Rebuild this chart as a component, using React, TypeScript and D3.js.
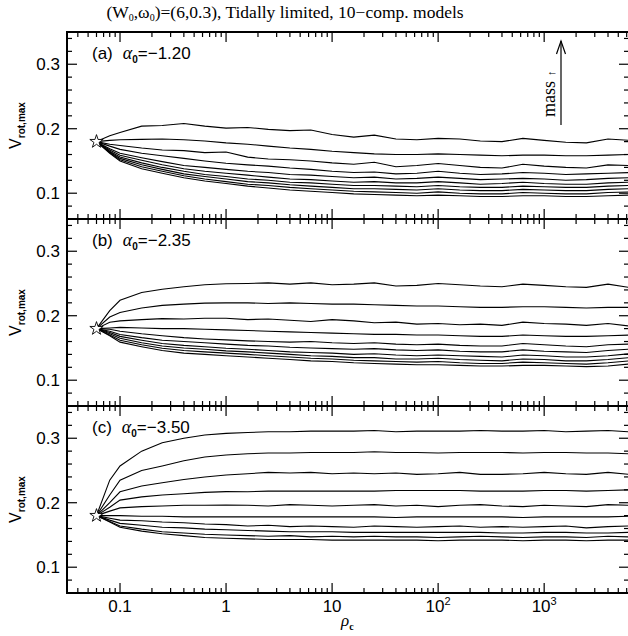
import React from "react";
import * as d3 from "d3";

// ---- data ----
const RHO_C = [0.06, 0.08, 0.1, 0.16, 0.25, 0.4, 0.63, 1, 1.6, 2.5, 4, 6.3, 10, 16, 25, 40, 63, 100, 160, 250, 400, 630, 1000, 1600, 2500, 4000, 6300];

const VROT_A = [
  [0.180, 0.189, 0.194, 0.204, 0.205, 0.208, 0.204, 0.201, 0.202, 0.199, 0.197, 0.198, 0.191, 0.187, 0.190, 0.184, 0.183, 0.185, 0.184, 0.181, 0.180, 0.185, 0.182, 0.179, 0.178, 0.184, 0.182],
  [0.180, 0.182, 0.183, 0.1835, 0.184, 0.183, 0.181, 0.178, 0.176, 0.173, 0.170, 0.168, 0.165, 0.163, 0.161, 0.160, 0.160, 0.161, 0.160, 0.159, 0.158, 0.159, 0.159, 0.158, 0.158, 0.159, 0.160],
  [0.180, 0.176, 0.174, 0.170, 0.167, 0.166, 0.163, 0.164, 0.156, 0.153, 0.152, 0.150, 0.147, 0.145, 0.148, 0.141, 0.143, 0.146, 0.143, 0.140, 0.139, 0.145, 0.142, 0.140, 0.139, 0.144, 0.143],
  [0.180, 0.173, 0.168, 0.162, 0.158, 0.154, 0.150, 0.1465, 0.144, 0.142, 0.139, 0.137, 0.134, 0.132, 0.133, 0.130, 0.131, 0.134, 0.131, 0.129, 0.130, 0.132, 0.131, 0.129, 0.130, 0.131, 0.132],
  [0.180, 0.169, 0.162, 0.155, 0.149, 0.143, 0.140, 0.137, 0.134, 0.132, 0.129, 0.128, 0.126, 0.124, 0.125, 0.122, 0.123, 0.125, 0.123, 0.121, 0.122, 0.123, 0.122, 0.120, 0.121, 0.123, 0.124],
  [0.180, 0.167, 0.159, 0.151, 0.144, 0.138, 0.134, 0.131, 0.128, 0.125, 0.122, 0.121, 0.119, 0.117, 0.118, 0.116, 0.116, 0.118, 0.116, 0.114, 0.115, 0.117, 0.115, 0.114, 0.114, 0.116, 0.117],
  [0.180, 0.165, 0.156, 0.147, 0.140, 0.134, 0.129, 0.126, 0.122, 0.120, 0.117, 0.116, 0.114, 0.112, 0.112, 0.111, 0.110, 0.112, 0.110, 0.109, 0.109, 0.111, 0.110, 0.109, 0.109, 0.111, 0.112],
  [0.180, 0.164, 0.154, 0.144, 0.137, 0.130, 0.126, 0.122, 0.118, 0.116, 0.113, 0.111, 0.109, 0.107, 0.107, 0.106, 0.105, 0.107, 0.105, 0.104, 0.104, 0.106, 0.105, 0.104, 0.104, 0.106, 0.107],
  [0.180, 0.163, 0.152, 0.141, 0.134, 0.127, 0.122, 0.118, 0.114, 0.112, 0.109, 0.107, 0.105, 0.103, 0.102, 0.101, 0.100, 0.102, 0.100, 0.099, 0.099, 0.101, 0.100, 0.099, 0.099, 0.101, 0.102],
  [0.180, 0.162, 0.150, 0.138, 0.131, 0.124, 0.119, 0.115, 0.111, 0.108, 0.105, 0.103, 0.101, 0.099, 0.098, 0.097, 0.096, 0.097, 0.096, 0.095, 0.095, 0.096, 0.096, 0.095, 0.095, 0.096, 0.097],
];

const VROT_B = [
  [0.180, 0.208, 0.224, 0.236, 0.241, 0.245, 0.248, 0.2495, 0.250, 0.251, 0.249, 0.251, 0.248, 0.249, 0.251, 0.246, 0.247, 0.250, 0.248, 0.246, 0.245, 0.249, 0.247, 0.245, 0.244, 0.249, 0.244],
  [0.180, 0.198, 0.205, 0.212, 0.216, 0.218, 0.2195, 0.220, 0.220, 0.219, 0.220, 0.219, 0.218, 0.218, 0.217, 0.216, 0.215, 0.215, 0.214, 0.213, 0.213, 0.214, 0.214, 0.213, 0.212, 0.213, 0.213],
  [0.180, 0.190, 0.192, 0.194, 0.1955, 0.195, 0.196, 0.196, 0.194, 0.195, 0.193, 0.191, 0.194, 0.192, 0.189, 0.190, 0.187, 0.188, 0.186, 0.187, 0.185, 0.190, 0.188, 0.187, 0.185, 0.188, 0.184],
  [0.180, 0.181, 0.182, 0.181, 0.180, 0.180, 0.179, 0.178, 0.177, 0.176, 0.175, 0.174, 0.173, 0.172, 0.171, 0.171, 0.170, 0.170, 0.169, 0.168, 0.168, 0.170, 0.169, 0.168, 0.168, 0.169, 0.170],
  [0.180, 0.179, 0.176, 0.172, 0.169, 0.166, 0.164, 0.1625, 0.161, 0.160, 0.159, 0.160, 0.158, 0.157, 0.158, 0.156, 0.155, 0.156, 0.154, 0.153, 0.153, 0.157, 0.155, 0.153, 0.152, 0.155, 0.156],
  [0.180, 0.176, 0.171, 0.166, 0.162, 0.160, 0.158, 0.156, 0.154, 0.153, 0.151, 0.150, 0.149, 0.148, 0.149, 0.147, 0.146, 0.147, 0.145, 0.144, 0.144, 0.147, 0.145, 0.144, 0.143, 0.146, 0.148],
  [0.180, 0.174, 0.168, 0.162, 0.157, 0.154, 0.152, 0.1495, 0.148, 0.146, 0.144, 0.143, 0.142, 0.140, 0.141, 0.139, 0.138, 0.139, 0.138, 0.137, 0.136, 0.139, 0.138, 0.136, 0.136, 0.138, 0.141],
  [0.180, 0.172, 0.165, 0.158, 0.153, 0.150, 0.148, 0.1455, 0.144, 0.142, 0.140, 0.138, 0.137, 0.135, 0.135, 0.133, 0.133, 0.134, 0.132, 0.131, 0.130, 0.133, 0.132, 0.130, 0.130, 0.132, 0.135],
  [0.180, 0.170, 0.162, 0.155, 0.1495, 0.146, 0.144, 0.142, 0.140, 0.138, 0.136, 0.134, 0.133, 0.131, 0.130, 0.129, 0.128, 0.129, 0.127, 0.126, 0.126, 0.128, 0.127, 0.126, 0.125, 0.127, 0.130],
  [0.180, 0.169, 0.159, 0.152, 0.146, 0.142, 0.140, 0.138, 0.136, 0.134, 0.132, 0.130, 0.129, 0.127, 0.126, 0.125, 0.124, 0.124, 0.123, 0.122, 0.122, 0.123, 0.123, 0.122, 0.121, 0.122, 0.125],
];

const VROT_C = [
  [0.180, 0.235, 0.257, 0.280, 0.293, 0.300, 0.305, 0.3075, 0.309, 0.310, 0.310, 0.311, 0.311, 0.311, 0.312, 0.310, 0.311, 0.311, 0.311, 0.312, 0.311, 0.311, 0.312, 0.310, 0.311, 0.312, 0.310],
  [0.180, 0.212, 0.235, 0.250, 0.257, 0.265, 0.271, 0.274, 0.276, 0.277, 0.277, 0.278, 0.278, 0.278, 0.279, 0.278, 0.278, 0.277, 0.278, 0.278, 0.278, 0.277, 0.278, 0.278, 0.277, 0.277, 0.276],
  [0.180, 0.200, 0.217, 0.226, 0.231, 0.236, 0.240, 0.243, 0.245, 0.247, 0.246, 0.247, 0.245, 0.246, 0.245, 0.246, 0.244, 0.245, 0.247, 0.244, 0.244, 0.245, 0.247, 0.245, 0.244, 0.247, 0.244],
  [0.180, 0.193, 0.204, 0.209, 0.212, 0.214, 0.216, 0.2172, 0.217, 0.218, 0.218, 0.218, 0.218, 0.218, 0.218, 0.219, 0.219, 0.219, 0.219, 0.218, 0.218, 0.218, 0.219, 0.219, 0.218, 0.219, 0.220],
  [0.180, 0.187, 0.192, 0.194, 0.195, 0.196, 0.196, 0.1965, 0.196, 0.195, 0.197, 0.196, 0.195, 0.196, 0.197, 0.195, 0.196, 0.194, 0.196, 0.197, 0.195, 0.194, 0.196, 0.195, 0.194, 0.197, 0.196],
  [0.180, 0.180, 0.180, 0.179, 0.179, 0.178, 0.178, 0.178, 0.178, 0.178, 0.178, 0.178, 0.178, 0.178, 0.178, 0.177, 0.178, 0.178, 0.178, 0.178, 0.178, 0.177, 0.178, 0.178, 0.178, 0.178, 0.179],
  [0.180, 0.176, 0.173, 0.172, 0.170, 0.169, 0.167, 0.166, 0.164, 0.165, 0.163, 0.164, 0.163, 0.162, 0.164, 0.163, 0.162, 0.163, 0.164, 0.162, 0.163, 0.162, 0.163, 0.164, 0.161, 0.163, 0.164],
  [0.180, 0.173, 0.168, 0.165, 0.162, 0.161, 0.159, 0.158, 0.157, 0.156, 0.155, 0.155, 0.155, 0.154, 0.154, 0.154, 0.154, 0.154, 0.154, 0.154, 0.153, 0.153, 0.154, 0.154, 0.153, 0.153, 0.154],
  [0.180, 0.171, 0.164, 0.159, 0.155, 0.153, 0.151, 0.150, 0.149, 0.148, 0.149, 0.147, 0.148, 0.147, 0.148, 0.147, 0.147, 0.146, 0.147, 0.148, 0.147, 0.146, 0.147, 0.147, 0.146, 0.148, 0.147],
  [0.180, 0.170, 0.162, 0.156, 0.152, 0.149, 0.146, 0.145, 0.144, 0.143, 0.143, 0.143, 0.142, 0.142, 0.142, 0.142, 0.142, 0.141, 0.142, 0.142, 0.142, 0.141, 0.142, 0.142, 0.141, 0.142, 0.142],
];

const PANEL_LETTERS = ["(a)", "(b)", "(c)"];
const ALPHA_VALUES = ["\u22121.20", "\u22122.35", "\u22123.50"];
const Y_TICK_LABELS = [0.1, 0.2, 0.3];
const X_TICK_LABELS: [number, string, string][] = [
  [0.1, "0.1", ""],
  [1, "1", ""],
  [10, "10", ""],
  [100, "10", "2"],
  [1000, "10", "3"],
];
const STAR = { rho: 0.06, v: 0.18 };

// ---- layout ----
const W = 628, H = 636;
const LEFT = 67, RIGHT = 629;
const PANEL_TOPS = [32, 219, 406];
const PANEL_H = 187;
const SANS = "'Liberation Sans', Arial, sans-serif";
const SERIF = "'Liberation Serif', 'DejaVu Serif', serif";

const x = d3.scaleLog().domain([Math.pow(10, -1.5), Math.pow(10, 3.8)]).range([LEFT, RIGHT]);

const xTicks: { v: number; major: boolean }[] = [];
for (let e = -2; e <= 4; e++) {
  for (let m = 1; m <= 9; m++) {
    const v = m * Math.pow(10, e);
    const lv = Math.log10(v);
    if (lv >= -1.5 && lv <= 3.8) xTicks.push({ v, major: m === 1 });
  }
}
const yTicks: { v: number; major: boolean }[] = [];
for (let i = 3; i <= 17; i++) {
  const v = +(i * 0.02).toFixed(2);
  yTicks.push({ v, major: Math.abs(v * 10 - Math.round(v * 10)) < 1e-6 });
}

function Panel({ idx, data }: { idx: number; data: number[][] }) {
  const top = PANEL_TOPS[idx];
  const y = d3.scaleLinear().domain([0.06, 0.35]).range([top + PANEL_H, top]);
  const line = d3
    .line<number>()
    .x((_, i) => x(RHO_C[i]))
    .y((d) => y(d));
  const star = d3.symbol(d3.symbolStar, 55)();
  const clipId = `clip${idx}`;
  return (
    <g>
      <defs>
        <clipPath id={clipId}>
          <rect x={LEFT} y={top} width={RIGHT - LEFT} height={PANEL_H} />
        </clipPath>
      </defs>
      <g clipPath={`url(#${clipId})`}>
        {data.map((s, i) => (
          <path key={i} d={line(s) || ""} fill="none" stroke="#000" strokeWidth={1.1} />
        ))}
      </g>
      <path
        d={star || ""}
        transform={`translate(${x(STAR.rho)},${y(STAR.v)})`}
        fill="#fff"
        stroke="#000"
        strokeWidth={0.9}
      />
      {/* ticks */}
      {xTicks.map((t, i) => {
        const len = t.major ? 10 : 5;
        const xx = x(t.v);
        return (
          <g key={"x" + i} stroke="#000" strokeWidth={1.2}>
            <line x1={xx} x2={xx} y1={top} y2={top + len} />
            <line x1={xx} x2={xx} y1={top + PANEL_H} y2={top + PANEL_H - len} />
          </g>
        );
      })}
      {yTicks.map((t, i) => {
        const len = t.major ? 10 : 5;
        const yy = y(t.v);
        if (yy < top || yy > top + PANEL_H) return null;
        return (
          <g key={"y" + i} stroke="#000" strokeWidth={1.2}>
            <line x1={LEFT} x2={LEFT + len} y1={yy} y2={yy} />
            <line x1={RIGHT} x2={RIGHT - len} y1={yy} y2={yy} />
          </g>
        );
      })}
      <rect x={LEFT} y={top} width={RIGHT - LEFT} height={PANEL_H} fill="none" stroke="#000" strokeWidth={2} />
      {Y_TICK_LABELS.map((v) => (
        <text key={v} x={60} y={y(v)} dy="0.36em" textAnchor="end" fontFamily={SANS} fontSize={17}>
          {v.toFixed(1)}
        </text>
      ))}
      <text
        transform={`translate(21,${top + PANEL_H / 2}) rotate(-90)`}
        textAnchor="middle"
        fontFamily={SANS}
        fontSize={16}
      >
        V
        <tspan fontSize={10} fontWeight="bold" dy={4}>rot,max</tspan>
      </text>
      <text x={92} y={top + 27} fontFamily={SANS} fontSize={17}>
        {PANEL_LETTERS[idx]}
        <tspan dx={10} fontFamily={SERIF} fontStyle="italic" fontSize={18}>α</tspan>
        <tspan fontSize={10} fontWeight="bold" dy={4}>0</tspan>
        <tspan dy={-4}>={ALPHA_VALUES[idx]}</tspan>
      </text>
    </g>
  );
}

export default function App() {
  return (
    <svg
      width={W}
      height={H}
      style={{ position: "absolute", left: 0, top: 0, background: "#fff" }}
    >
      <rect width={W} height={H} fill="#fff" />
      <text x={285} y={18} textAnchor="middle" fontFamily={SERIF} fontSize={17.5}>
        (W<tspan fontSize={10} dy={3}>0</tspan>
        <tspan dy={-3}>,ω</tspan>
        <tspan fontSize={10} dy={3}>0</tspan>
        <tspan dy={-3}>)=(6,0.3), Tidally limited, 10−comp. models</tspan>
      </text>
      <Panel idx={0} data={VROT_A} />
      <Panel idx={1} data={VROT_B} />
      <Panel idx={2} data={VROT_C} />
      {/* x tick labels */}
      {X_TICK_LABELS.map(([v, base, sup]) => (
        <text key={v} x={x(v)} y={612} textAnchor="middle" fontFamily={SANS} fontSize={17}>
          {base}
          {sup ? <tspan fontSize={11} dy={-7}>{sup}</tspan> : null}
        </text>
      ))}
      <text x={341} y={626} fontFamily={SERIF} fontStyle="italic" fontSize={17}>
        ρ<tspan fontStyle="normal" fontSize={10} fontWeight="bold" dy={4}>c</tspan>
      </text>
      {/* mass arrow */}
      <line x1={561} x2={561} y1={125} y2={41} stroke="#000" strokeWidth={1.2} />
      <path d="M556.5,54 L561,41 L565.5,54" fill="none" stroke="#000" strokeWidth={1.2} />
      <text transform="translate(555,117) rotate(-90)" fontFamily={SERIF} fontSize={18}>
        mass
        <tspan fontSize={11} dx={5}>↑</tspan>
      </text>
    </svg>
  );
}
